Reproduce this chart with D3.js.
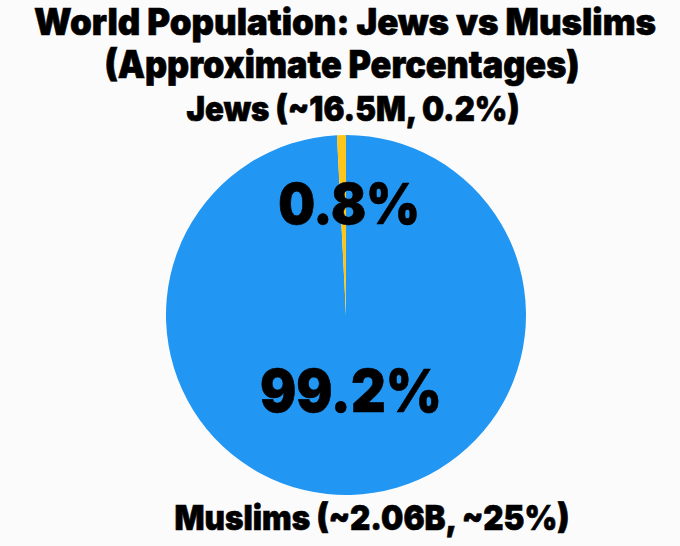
<!DOCTYPE html>
<html>
<head>
<meta charset="utf-8">
<script src="https://cdn.jsdelivr.net/npm/d3@7"></script>
<style>
  html, body { margin: 0; padding: 0; background: #fbfbfb; }
  svg { display: block; }
  text { font-family: Inter, "Noto Sans", sans-serif; font-weight: 900; fill: #000; stroke: #000; stroke-width: 0.6px; }
</style>
</head>
<body>
<svg id="chart" width="680" height="546"></svg>
<script>
const titleLines = ["World Population: Jews vs Muslims", "(Approximate Percentages)"];
const categories = ["Muslims", "Jews"];
const values = [99.2, 0.8];
const outerLabels = ["Muslims (~2.06B, ~25%)", "Jews (~16.5M, 0.2%)"];
const colors = ["#2196F3", "#FFC61A"];

const svg = d3.select("#chart");
const cx = 346, cy = 315, R = 180;

// place text at (x,y) baseline with a slight vertical stretch, and fit to target width
function label(parent, x, y, str, target, base, baseline, sy) {
  const t = parent.append("text")
    .attr("transform", `translate(${x},${y}) scale(1,${sy || 1.1})`)
    .attr("text-anchor", "middle")
    .text(str);
  if (baseline) t.attr("dominant-baseline", baseline);
  t.style("font-size", base + "px");
  const w = t.node().getComputedTextLength();
  t.style("font-size", (base * target / w).toFixed(2) + "px");
  return t;
}

// Title
label(svg, 345, 35, titleLines[0], 622, 30, null, 1.04);
label(svg, 342, 78, titleLines[1], 475, 30);

const pie = d3.pie().sort(null).value(d => d)(values);
const arc = d3.arc().innerRadius(0).outerRadius(R);
const g = svg.append("g").attr("transform", `translate(${cx},${cy})`);

g.selectAll("path").data(pie).join("path")
  .attr("d", arc)
  .attr("fill", (d, i) => colors[i]);

// percentage labels inside
const fmt = v => v.toFixed(1) + "%";
const inner = [
  {r: 0.42, target: 182, dx: 3},
  {r: 0.62, target: 142, dx: 6}
];
pie.forEach((d, i) => {
  const a = (d.startAngle + d.endAngle) / 2;
  const rr = R * inner[i].r;
  const x = Math.sin(a) * rr + inner[i].dx, y = -Math.cos(a) * rr;
  label(g, x, y, fmt(d.data), inner[i].target, 48, "central");
});

// outer labels
label(svg, 372, 530, outerLabels[0], 395, 28);
label(svg, 353, 121, outerLabels[1], 333, 28);
</script>
</body>
</html>
